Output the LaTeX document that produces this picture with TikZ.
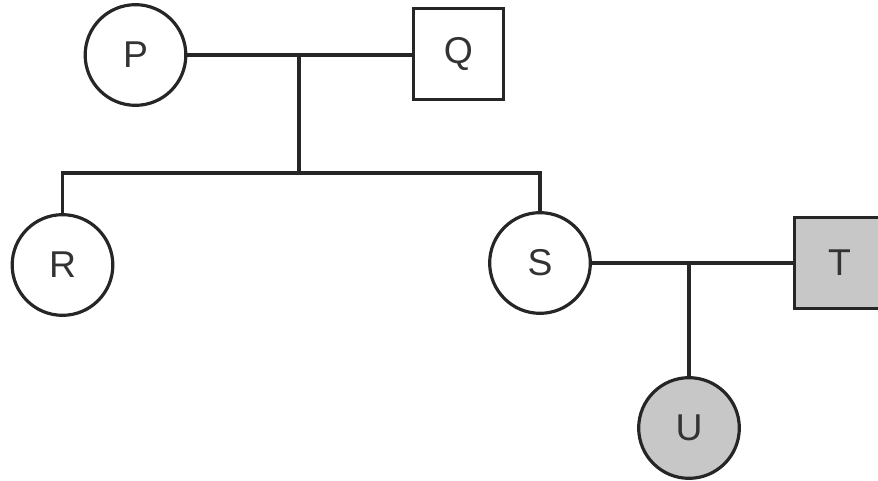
\documentclass[tikz,border=0pt]{standalone}
\usepackage{fontspec}
\setmainfont{Liberation Sans}
\begin{document}
\begin{tikzpicture}[x=0.75pt,y=-0.75pt,
  conn/.style={draw=black!85,line width=2.4pt},
  person/.style={draw=black!85,line width=2.4pt,inner sep=0pt,font=\fontsize{28}{28}\selectfont,text=black!80},
  female/.style={person,circle,minimum size=75.5pt},
  male/.style={person,rectangle,minimum size=68pt},
  affected/.style={fill=black!22}]
\useasboundingbox (0,0) rectangle (878,481);
\clip (0,0) rectangle (878,481);
\node[female] (P) at (135.5,55) {P};
\node[male] (Q) at (458.5,54) {Q};
\node[female] (R) at (62.5,265) {R};
\node[female] (S) at (540,263) {S};
\node[male,affected] (T) at (839.5,263) {T};
\node[female,affected] (U) at (689,428) {U};
\coordinate (m1) at (299,55);
\coordinate (sib) at (299,173);
\coordinate (m2) at (689,263);
\draw[conn] (P) -- (P -| Q.west);
\draw[conn] (m1) -- (sib);
\draw[conn] (R) -- (R |- sib) -- (S |- sib) -- (S);
\draw[conn] (S) -- (T);
\draw[conn] (m2) -- (U);
\end{tikzpicture}
\end{document}
